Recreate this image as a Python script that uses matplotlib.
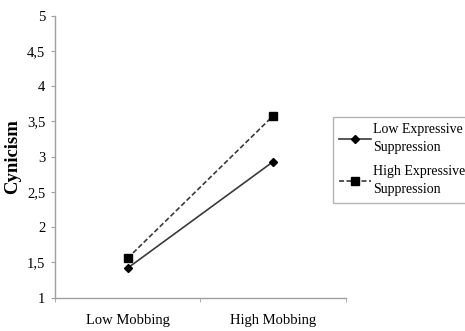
import matplotlib.pyplot as plt
import numpy as np

# Data
categories = ['Low Mobbing', 'High Mobbing']
low_supp = [1.42, 2.93]
high_supp = [1.56, 3.58]
y_ticks = [1, 1.5, 2, 2.5, 3, 3.5, 4, 4.5, 5]
y_labels = ['1', '1,5', '2', '2,5', '3', '3,5', '4', '4,5', '5']

plt.rcParams['font.family'] = ['Liberation Serif', 'DejaVu Serif']

fig = plt.figure(figsize=(4.65, 3.31), dpi=100)
ax = fig.add_axes([0.118, 0.1006, 0.626, 0.852])

x = np.arange(len(categories))
ax.plot(x, low_supp, color='#3a3a3a', linestyle='-', linewidth=1.2,
        marker='D', markersize=4, markerfacecolor='black', markeredgecolor='black',
        label='Low Expressive\nSuppression')
ax.plot(x, high_supp, color='#3a3a3a', linestyle=(0, (3, 1.5)), linewidth=1.2,
        marker='s', markersize=5.5, markerfacecolor='black', markeredgecolor='black',
        label='High Expressive\nSuppression')

ax.set_xlim(-0.5, 1.5)
ax.set_ylim(1, 5)
ax.set_yticks(y_ticks)
ax.set_yticklabels(y_labels, fontsize=10.5)
ax.set_xticks(x)
ax.set_xticklabels(categories, fontsize=10.5)
ax.set_xticks([-0.5, 0.5, 1.5], minor=True)
ax.tick_params(axis='x', which='major', length=0, pad=12)
ax.tick_params(axis='x', which='minor', length=3, color='#a0a0a0', direction='out')
ax.tick_params(axis='y', length=3, color='#a0a0a0', direction='out', pad=4)

for s in ['top', 'right']:
    ax.spines[s].set_visible(False)
for s in ['left', 'bottom']:
    ax.spines[s].set_color('#a0a0a0')
    ax.spines[s].set_linewidth(1)

ax.set_ylabel('Cynicism', fontsize=13.5, fontweight='bold', labelpad=4)

leg = fig.legend(loc='upper left', bbox_to_anchor=(333 / 465, 1 - 117 / 331),
                 fontsize=10, frameon=True, fancybox=False, handlelength=2.3,
                 handletextpad=0.15, labelspacing=0.8, borderpad=0.45,
                 borderaxespad=0)
for t in leg.get_texts():
    t.set_linespacing(1.5)
leg.get_frame().set_edgecolor('#a0a0a0')
leg.get_frame().set_linewidth(1)

fig.savefig('out.png', dpi=100)
